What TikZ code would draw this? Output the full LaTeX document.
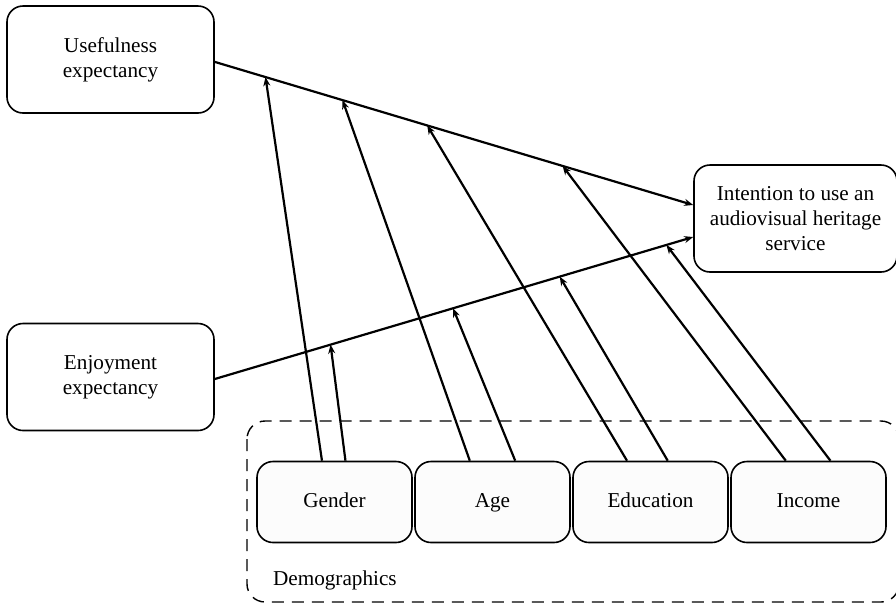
\documentclass[tikz,border=0pt]{standalone}
\usepackage{fontspec}
\setmainfont{Liberation Serif}
\usetikzlibrary{arrows.meta,calc}
\begin{document}
\begin{tikzpicture}[x=0.5pt,y=-0.5pt,
  txt/.style={font=\fontsize{10.6}{12.5}\selectfont},
  construct/.style={draw,line width=0.8pt,rounded corners=8pt,fill=white,align=center,
    minimum width=103.5pt,minimum height=53.5pt,inner sep=2pt,txt},
  demo/.style={draw,line width=0.8pt,rounded corners=8pt,fill=black!1,align=center,
    minimum width=77.5pt,minimum height=40.5pt,inner sep=2pt,txt,
    text height=1.6ex,text depth=0.45ex},
  path/.style={line width=1.1pt,-{Stealth[length=4.5pt,width=3.5pt]}},
  moder/.style={line width=1.1pt,-{Stealth[length=4.5pt,width=3.5pt]}}]
\useasboundingbox (0,0) rectangle (896,606);

% grouping box for the demographic variables
\draw[dashed,dash pattern=on 6pt off 4pt,line width=0.7pt,rounded corners=9pt]
  (247,421) rectangle (899,602);
\node[anchor=west,txt] (demolabel) at (266,580) {Demographics};

% constructs
\node[construct] (ue) at (110.5,59.5) {Usefulness\\expectancy};
\node[construct] (ee) at (110.5,377) {Enjoyment\\expectancy};
\node[construct,minimum width=101.5pt] (int) at (795.5,218.5) {Intention to use an\\audiovisual heritage\\service};

% demographic moderators
\node[demo] (gen) at (334.5,502) {Gender};
\node[demo] (age) at (492.5,502) {Age};
\node[demo] (edu) at (650.5,502) {Education};
\node[demo] (inc) at (808.5,502) {Income};

% main paths
\coordinate (uo) at ([yshift=-1.2pt]ue.east);
\coordinate (eo) at ([yshift=-1pt]ee.east);
\coordinate (i1) at ([yshift=6.75pt]int.west);
\coordinate (i2) at ([yshift=-9.25pt]int.west);
\draw[path] (uo) -- (i1);
\draw[path] (eo) -- (i2);

% moderating effects on the usefulness path
\draw[moder] ($(gen.north west)!0.42!(gen.north east)$) -- ($(uo)!0.106!(i1)$);
\draw[moder] ($(age.north west)!0.355!(age.north east)$) -- ($(uo)!0.267!(i1)$);
\draw[moder] ($(edu.north west)!0.35!(edu.north east)$) -- ($(uo)!0.444!(i1)$);
\draw[moder] ($(inc.north west)!0.355!(inc.north east)$) -- ($(uo)!0.727!(i1)$);

% moderating effects on the enjoyment path
\draw[moder] ($(gen.north west)!0.57!(gen.north east)$) -- ($(eo)!0.242!(i2)$);
\draw[moder] ($(age.north west)!0.645!(age.north east)$) -- ($(eo)!0.498!(i2)$);
\draw[moder] ($(edu.north west)!0.61!(edu.north east)$) -- ($(eo)!0.721!(i2)$);
\draw[moder] ($(inc.north west)!0.64!(inc.north east)$) -- ($(eo)!0.944!(i2)$);
\end{tikzpicture}
\end{document}
